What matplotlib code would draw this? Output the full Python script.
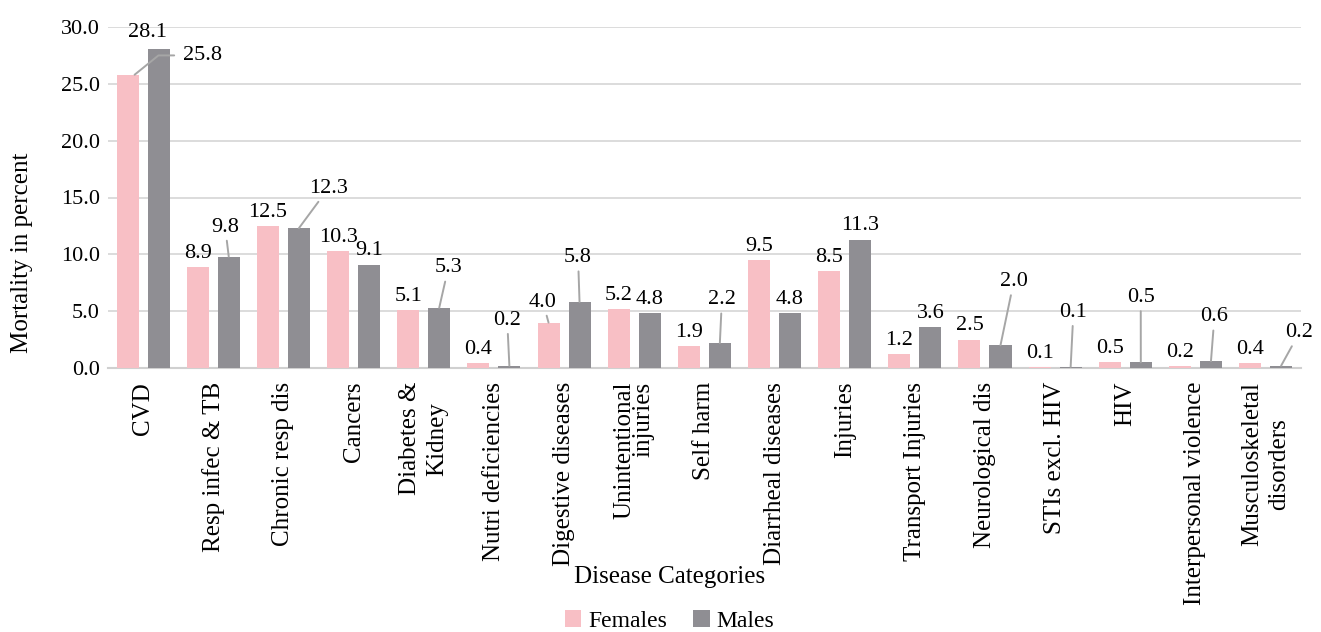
import numpy as np
import matplotlib
matplotlib.use("Agg")
import matplotlib.pyplot as plt

plt.rcParams['font.family'] = ['Liberation Serif', 'DejaVu Serif']

categories = ["CVD", "Resp infec & TB", "Chronic resp dis", "Cancers", "Diabetes &\nKidney",
              "Nutri deficiencies", "Digestive diseases", "Unintentional\ninjuries", "Self harm",
              "Diarrheal diseases", "Injuries", "Transport Injuries", "Neurological dis",
              "STIs excl. HIV", "HIV", "Interpersonal violence", "Musculoskeletal\ndisorders"]
females = [25.8, 8.9, 12.5, 10.3, 5.1, 0.4, 4.0, 5.2, 1.9, 9.5, 8.5, 1.2, 2.5, 0.1, 0.5, 0.2, 0.4]
males = [28.1, 9.8, 12.3, 9.1, 5.3, 0.2, 5.8, 4.8, 2.2, 4.8, 11.3, 3.6, 2.0, 0.1, 0.5, 0.6, 0.2]

# labels that were moved off their bars in the original (index: (x offset, y))
female_moved = {6: (-0.30, 5.8)}
female_elbow = {0: (0.84, 27.5)}
male_moved = {1: (0.17, 12.4), 2: (0.64, 15.8), 4: (0.35, 8.8), 5: (0.19, 4.2),
              6: (0.20, 9.7), 8: (0.25, 6.0), 12: (0.41, 7.6), 13: (0.26, 4.9),
              14: (0.22, 6.2), 15: (0.27, 4.5), 16: (0.48, 3.1)}
male_free = {0: (0.06, 29.5)}  # moved, no leader

pink = '#f8bfc5'
grey = '#8f8e93'
lead = '#a6a6a6'

fig = plt.figure(figsize=(13.21, 6.32), dpi=100)
ax = fig.add_axes([108 / 1321, 1 - 368 / 632, 1192.7 / 1321, 341 / 632])

x = np.arange(len(categories))
w = 0.314
off = 0.221
ax.bar(x - off, females, w, color=pink, label='Females', zorder=3)
ax.bar(x + off, males, w, color=grey, label='Males', zorder=3)

ax.set_ylim(0, 30)
ax.set_xlim(-0.5, len(categories) - 0.5)
ax.set_yticks(np.arange(0, 31, 5))
ax.set_yticklabels(['%.1f' % v for v in np.arange(0, 31, 5)], fontsize=16)
ax.yaxis.grid(True, color='#d9d9d9', lw=1.3, zorder=0)
ax.set_axisbelow(True)
for s in ['top', 'right', 'left']:
    ax.spines[s].set_visible(False)
ax.spines['bottom'].set_color('#d0d0d0')
ax.spines['bottom'].set_linewidth(1.5)
ax.tick_params(length=0)
ax.tick_params(axis='y', pad=6)
ax.tick_params(axis='x', pad=10)

ax.set_xticks(x)
ax.set_xticklabels(categories, rotation=90, fontsize=18)
for t in ax.get_xticklabels():
    t.set_multialignment('center')
    t.set_linespacing(1.3)
    if t.get_text().startswith('Unintentional'):
        t.set_multialignment('right')
        t.set_linespacing(0.8)


def put_labels(xs, vals, moved, free, elbow):
    for i, v in enumerate(vals):
        txt = '%.1f' % v
        if i in moved:
            dx, ly = moved[i]
            ax.annotate(txt, xy=(xs[i], v), xytext=(i + dx, ly), ha='center', va='center',
                        fontsize=16, zorder=5,
                        arrowprops=dict(arrowstyle='-', color=lead, lw=1.4, shrinkA=1, shrinkB=0))
        elif i in elbow:
            dx, ly = elbow[i]
            ax.annotate(txt, xy=(xs[i] + 0.1, v), xytext=(i + dx, ly), ha='center', va='center',
                        fontsize=16, zorder=5,
                        arrowprops=dict(arrowstyle='-', color=lead, lw=1.4, shrinkA=4, shrinkB=0,
                                        connectionstyle='angle,angleA=0,angleB=39,rad=0'))
        elif i in free:
            dx, ly = free[i]
            ax.text(i + dx, ly, txt, ha='center', va='center', fontsize=16)
        else:
            ax.annotate(txt, xy=(xs[i], v), xytext=(0, 3), textcoords='offset points',
                        ha='center', va='bottom', fontsize=16)


put_labels(x - off, females, female_moved, {}, female_elbow)
put_labels(x + off, males, male_moved, male_free, {})

fig.text(670 / 1321, 1 - 577 / 632, 'Disease Categories', ha='center', va='center', fontsize=18)
fig.text(22 / 1321, 1 - 253 / 632, 'Mortality in percent', ha='center', va='center',
         rotation=90, fontsize=18)

fig.legend(loc='center', bbox_to_anchor=(669.5 / 1321, 1 - 621 / 632), ncol=2, frameon=False,
           fontsize=17, handlelength=0.7, handleheight=0.7, handletextpad=0.3,
           columnspacing=1.1, borderpad=0)

fig.savefig('out.png', dpi=100)
